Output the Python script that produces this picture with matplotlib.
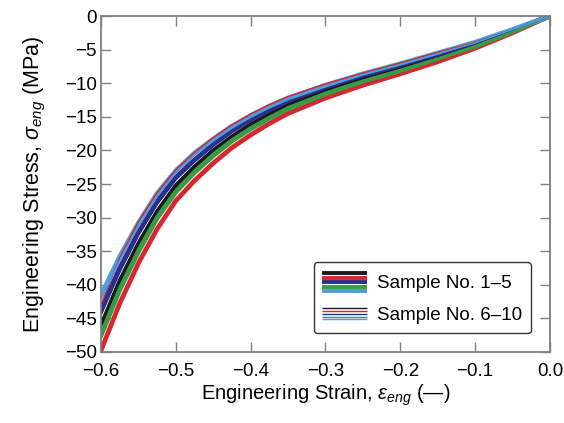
import matplotlib
matplotlib.use("Agg")
import matplotlib.pyplot as plt
from matplotlib.legend_handler import HandlerBase
from matplotlib.lines import Line2D

plt.rcParams.update({
    "font.family": ["Liberation Sans", "DejaVu Sans"],
    "font.size": 13.5,
    "mathtext.fontset": "custom",
    "mathtext.rm": "Liberation Sans",
    "mathtext.it": "Liberation Sans:italic",
})

strain = [0.0, -0.05, -0.1, -0.15, -0.2, -0.25, -0.3, -0.35, -0.375, -0.4,
          -0.425, -0.45, -0.475, -0.5, -0.525, -0.55, -0.575, -0.6]

# samples 1-5 (thick lines)
s1_black = [0, -2.2, -4.3, -6.1, -7.8, -9.4, -11.2, -13.3, -14.7, -16.2,
            -18.0, -20.1, -22.5, -25.3, -29.2, -34.0, -39.6, -46.3]
s2_red = [0, -2.5, -4.8, -6.8, -8.6, -10.3, -12.2, -14.5, -16.0, -17.7,
          -19.6, -21.9, -24.5, -27.5, -31.7, -36.8, -42.8, -49.8]
s3_blue = [0, -2.1, -4.1, -5.8, -7.4, -8.9, -10.7, -12.7, -14.0, -15.4,
           -17.1, -19.1, -21.4, -24.0, -27.6, -32.2, -37.5, -43.8]
s4_green = [0, -2.3, -4.5, -6.3, -8.1, -9.7, -11.6, -13.8, -15.2, -16.8,
            -18.6, -20.8, -23.3, -26.2, -30.1, -35.1, -40.8, -47.6]
s5_sky = [0, -2.0, -3.9, -5.5, -7.1, -8.6, -10.3, -12.2, -13.4, -14.8,
          -16.4, -18.3, -20.4, -23.0, -26.4, -30.8, -35.8, -41.6]

# samples 6-10 (thin lines)
s6_black = [0, -2.2, -4.2, -6.0, -7.7, -9.3, -11.0, -13.1, -14.5, -16.0,
            -17.8, -19.8, -22.2, -25.0, -28.8, -33.5, -39.0, -45.6]
s7_red = [0, -2.0, -3.9, -5.4, -7.0, -8.5, -10.1, -12.0, -13.2, -14.6,
          -16.2, -18.1, -20.3, -22.9, -26.3, -30.6, -36.0, -43.0]
s8_blue = [0, -2.1, -4.1, -5.9, -7.5, -9.0, -10.8, -12.8, -14.2, -15.6,
           -17.3, -19.4, -21.7, -24.4, -28.1, -32.7, -38.2, -44.6]
s9_green = [0, -2.3, -4.4, -6.3, -8.0, -9.6, -11.4, -13.5, -15.0, -16.5,
            -18.3, -20.4, -22.9, -25.8, -29.6, -34.5, -40.2, -46.9]
s10_sky = [0, -2.0, -4.0, -5.6, -7.2, -8.7, -10.4, -12.3, -13.6, -15.0,
           -16.6, -18.5, -20.7, -23.3, -26.8, -31.2, -36.4, -42.2]

COLORS = ["#1a1a1a", "#d7262e", "#2b2f8f", "#3a9a47", "#4a9fdc"]
thick = [s1_black, s2_red, s3_blue, s4_green, s5_sky]
thin = [s6_black, s7_red, s8_blue, s9_green, s10_sky]
xticks = [-0.6, -0.5, -0.4, -0.3, -0.2, -0.1, 0.0]


class Stack:
    """legend key: a stack of horizontal lines, one per sample colour"""
    def __init__(self, colors, lw, gap):
        self.colors, self.lw, self.gap = colors, lw, gap


class StackHandler(HandlerBase):
    def create_artists(self, legend, orig_handle, xdescent, ydescent,
                       width, height, fontsize, trans):
        n = len(orig_handle.colors)
        yc = height / 2 - ydescent
        out = []
        for i, c in enumerate(orig_handle.colors):
            y = yc + (n - 1) / 2 * orig_handle.gap - i * orig_handle.gap
            ln = Line2D([-xdescent, -xdescent + width], [y, y], color=c,
                        lw=orig_handle.lw, solid_capstyle="butt")
            ln.set_transform(trans)
            out.append(ln)
        return out


fig = plt.figure(figsize=(5.64, 4.23), dpi=100)
ax = fig.add_axes([0.179, 0.168, 0.796, 0.794])

for ys, c in zip(thick, COLORS):
    ax.plot(strain, ys, color=c, lw=3.4, solid_joinstyle="round")
for ys, c in zip(thin, COLORS):
    ax.plot(strain, ys, color=c, lw=1.1)

ax.set_xlim(-0.6, 0.0)
ax.set_ylim(-50, 0)
ax.set_xticks(xticks)
ax.set_xticklabels([f"\u2212{abs(v):.1f}" if v < 0 else "0.0" for v in xticks])
ax.set_yticks(range(-50, 1, 5))
ax.tick_params(direction="in", length=7, width=1.0, color="#808080",
               top=True, right=True, labelsize=13.5)
ax.tick_params(axis="x", pad=8)
ax.tick_params(axis="y", pad=3)
for sp in ax.spines.values():
    sp.set_color("#808080")
    sp.set_linewidth(1.3)

ax.set_xlabel("Engineering Strain, $\\varepsilon_{eng}$ (\u2014)",
              fontsize=14.5, labelpad=2)
ax.set_ylabel("Engineering Stress, $\\sigma_{eng}$ (MPa)", fontsize=15.5,
              labelpad=12)

h1 = Stack(COLORS, 2.8, 3.2)
h2 = Stack(COLORS, 1.0, 2.1)
leg = ax.legend([h1, h2], ["Sample No. 1\u20135", "Sample No. 6\u201310"],
                handler_map={Stack: StackHandler()},
                loc="lower right", bbox_to_anchor=(0.958, 0.055),
                borderaxespad=0, handlelength=2.4, handleheight=1.5,
                labelspacing=0.45, handletextpad=0.55, fontsize=13.5,
                fancybox=True, framealpha=1, edgecolor="#333333",
                borderpad=0.45)
leg.get_frame().set_linewidth(1.0)

fig.savefig("out.png", dpi=100)
